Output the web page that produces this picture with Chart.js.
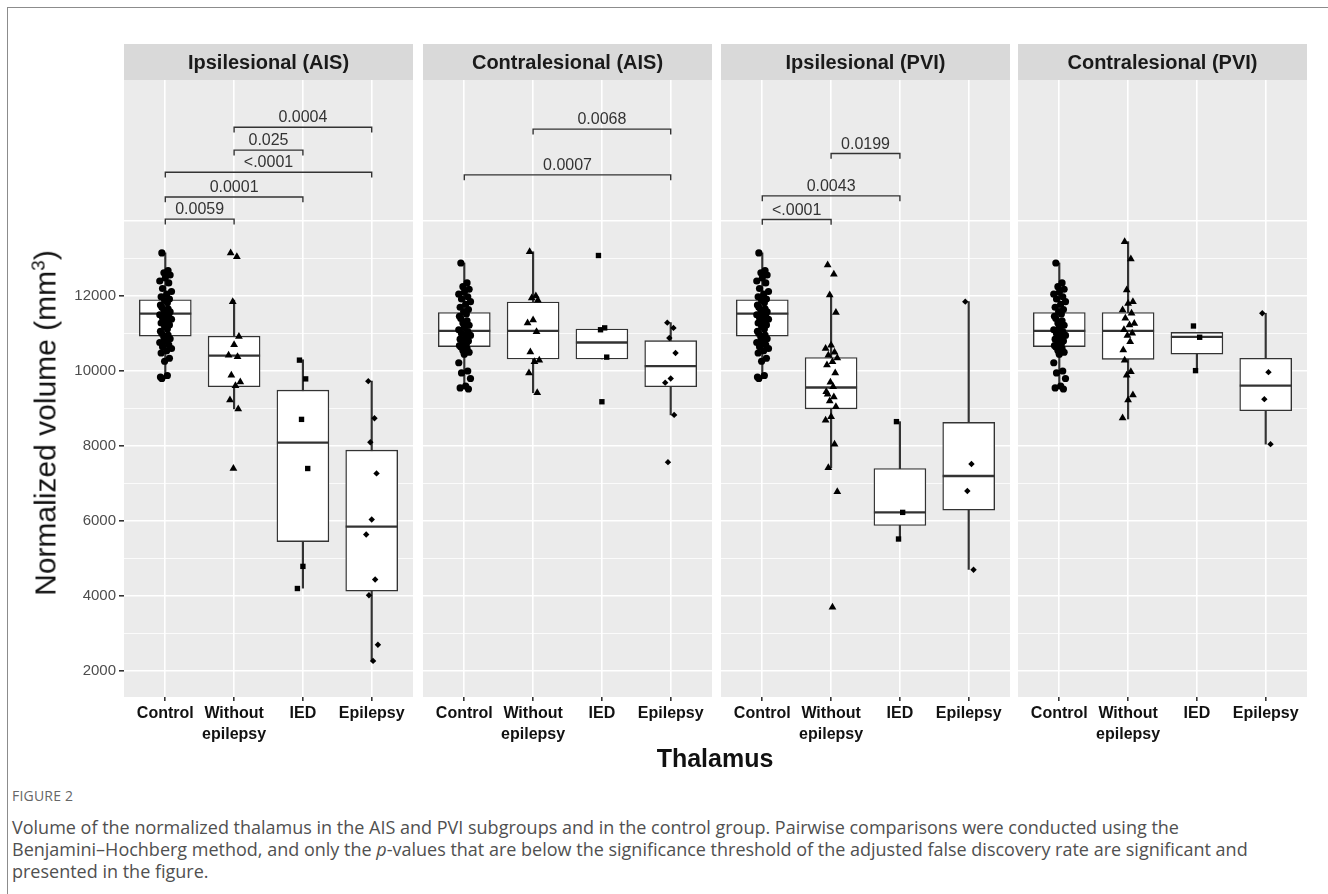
<!DOCTYPE html>
<html>
<head>
<meta charset="utf-8">
<script src="https://cdn.jsdelivr.net/npm/chart.js@4.4.0/dist/chart.umd.min.js"></script>
<style>
  body { margin: 0; background: #fff; width: 1328px; height: 894px; overflow: hidden; position: relative; font-family: "Liberation Sans", Arial, sans-serif; }
  .frame { position: absolute; left: 7px; top: 7px; width: 1340px; height: 900px; border-left: 1.5px solid #8c8c8c; border-top: 1.5px solid #8c8c8c; }
  canvas { position: absolute; top: 44px; }
  #yTitle { position: absolute; left: 45px; top: 423px; transform: translate(-50%, -50%) rotate(-90deg); font-size: 30px; white-space: nowrap; color: #111; }
  #yTitle sup { font-size: 19px; }
  #xTitle { position: absolute; left: 715px; top: 758px; transform: translate(-50%, -50%); font-weight: bold; font-size: 25px; color: #111; }
  #figLabel { position: absolute; left: 12px; top: 786px; font-family: "Open Sans", sans-serif; font-size: 14px; color: #666; letter-spacing: 0.2px; }
  #caption { position: absolute; left: 12px; top: 816px; width: 1310px; font-family: "Open Sans", sans-serif; font-size: 18px; line-height: 22px; color: #505050; white-space: nowrap; }
</style>
</head>
<body>
<div class="frame"></div>
<canvas id="p1" width="413" height="706" style="left:0px"></canvas>
<canvas id="p2" width="289" height="706" style="left:423px"></canvas>
<canvas id="p3" width="289" height="706" style="left:721px"></canvas>
<canvas id="p4" width="289" height="706" style="left:1018px"></canvas>
<div id="yTitle">Normalized volume (mm<sup>3</sup>)</div>
<div id="xTitle">Thalamus</div>
<div id="figLabel">FIGURE 2</div>
<div id="caption">Volume of the normalized thalamus in the AIS and PVI subgroups and in the control group. Pairwise comparisons were conducted using the<br>Benjamini–Hochberg method, and only the <i>p</i>-values that are below the significance threshold of the adjusted false discovery rate are significant and<br>presented in the figure.</div>

<script>
// Thalamus volume chart
Chart.defaults.font.family = `"Liberation Sans", Arial, sans-serif`;

// Categories / labels
const groups = [`Control`, `Without epilepsy`, `IED`, `Epilepsy`];
const tickLabels = [[`Control`], [`Without`, `epilepsy`], [`IED`], [`Epilepsy`]];
const panelTitles = [`Ipsilesional (AIS)`, `Contralesional (AIS)`, `Ipsilesional (PVI)`, `Contralesional (PVI)`];
const yTicks = [2000, 4000, 6000, 8000, 10000, 12000];
const gridValues = [2000, 3000, 4000, 5000, 6000, 7000, 8000, 9000, 10000, 11000, 12000, 13000, 14000];

// Box stats: [whisker low, Q1, median, Q3, whisker high]
const ipsiAisBoxes = [[9800, 10930, 11530, 11900, 13150], [8990, 9580, 10410, 10930, 11890], [4210, 5450, 8090, 9490, 10300], [2270, 4130, 5850, 7890, 9730]];
const contraAisBoxes = [[9540, 10650, 11070, 11560, 12880], [9420, 10320, 11070, 11840, 13180], [10320, 10320, 10760, 11120, 11120], [8830, 9580, 10130, 10810, 11290]];
const ipsiPviBoxes = [[9800, 10930, 11530, 11900, 13150], [7420, 8990, 9560, 10360, 12030], [5520, 5880, 6230, 7400, 8650], [4710, 6290, 7200, 8630, 11850]];
const contraPviBoxes = [[9540, 10650, 11070, 11560, 12880], [8720, 10310, 11070, 11560, 13450], [10010, 10450, 10910, 11030, 11030], [8050, 8940, 9610, 10340, 11540]];

// Individual points
const controlIpsi = [13150, 12680, 12620, 12560, 12480, 12400, 12350, 12200, 12120, 12050, 11980, 11920, 11880, 11820, 11760, 11700, 11660, 11620, 11580, 11540, 11500, 11460, 11420, 11380, 11330, 11280, 11230, 11180, 11120, 11060, 11000, 10960, 10900, 10860, 10800, 10760, 10700, 10650, 10600, 10540, 10480, 10340, 10260, 9880, 9840, 9800];
const controlContra = [12880, 12350, 12250, 12180, 12100, 12050, 11980, 11920, 11850, 11780, 11700, 11640, 11580, 11520, 11460, 11400, 11340, 11280, 11220, 11160, 11100, 11050, 11000, 10950, 10900, 10850, 10800, 10760, 10720, 10680, 10640, 10600, 10550, 10500, 10450, 10220, 10000, 9950, 9800, 9600, 9550, 9520];
const woIpsiAis = [13150, 13050, 11850, 10920, 10700, 10420, 10380, 9890, 9710, 9610, 9230, 8990, 7400];
const iedIpsiAis = [10290, 9790, 8710, 7400, 4790, 4200];
const epiIpsiAis = [9730, 8740, 8100, 7270, 6040, 5640, 4440, 4020, 2700, 2270];
const woContraAis = [13180, 12000, 11950, 11890, 11360, 11280, 11050, 10510, 10290, 10250, 9950, 9420];
const iedContraAis = [13080, 11150, 11100, 10370, 9180];
const epiContraAis = [11290, 11150, 10880, 10480, 9800, 9690, 8830, 7570];
const woIpsiPvi = [12830, 12580, 12030, 11560, 10690, 10600, 10500, 10420, 10350, 10250, 10160, 9950, 9700, 9580, 9450, 9380, 9310, 9200, 9050, 8780, 8690, 8050, 7420, 6780, 3700];
const iedIpsiPvi = [8650, 6230, 5520];
const epiIpsiPvi = [11850, 7520, 6800, 4700];
const woContraPvi = [13450, 12990, 12160, 11850, 11800, 11630, 11540, 11410, 11270, 11230, 11100, 11010, 10950, 10780, 10560, 10290, 9980, 9890, 9360, 9230, 8750];
const iedContraPvi = [11200, 10900, 10010];
const epiContraPvi = [11540, 9970, 9250, 8050];

// Significance brackets: [from group, to group, y, p label]
const ipsiAisSig = [[2, 4, 16500, `0.0004`], [2, 3, 15890, `0.025`], [1, 4, 15300, `<.0001`], [1, 3, 14640, `0.0001`], [1, 2, 14050, `0.0059`]];
const contraAisSig = [[2, 4, 16450, `0.0068`], [1, 4, 15230, `0.0007`]];
const ipsiPviSig = [[2, 3, 15800, `0.0199`], [1, 3, 14670, `0.0043`], [1, 2, 14040, `<.0001`]];
const contraPviSig = [];

// Horizontal jitter offsets for the points
const jitter = [-0.05, 0.04, -0.02, 0.07, 0.0, -0.08, 0.05, -0.04, 0.09, 0.02, -0.06, 0.06, -0.01, 0.03, -0.07];
const shapes = [`circle`, `triangle`, `rect`, `rectRot`];
const radii = [3.6, 4.5, 3.8, 3.2];
const tipLen = 140;

// Panel background, strip and p-value labels
const panelPlugin = {
  id: `panel`,
  beforeDraw(chart, args, opts) {
    const {ctx, chartArea: a} = chart;
    ctx.save();
    ctx.fillStyle = `#ebebeb`;
    ctx.fillRect(a.left, a.top, a.right - a.left, a.bottom - a.top);
    ctx.fillStyle = `#d9d9d9`;
    ctx.fillRect(a.left, a.top - 36, a.right - a.left, 36);
    ctx.fillStyle = `#1a1a1a`;
    ctx.font = `bold 20px "Liberation Sans", Arial, sans-serif`;
    ctx.textAlign = `center`;
    ctx.textBaseline = `middle`;
    ctx.fillText(opts.title, (a.left + a.right) / 2, a.top - 17);
    ctx.restore();
  },
  afterDatasetsDraw(chart, args, opts) {
    const {ctx, scales: {x, y}} = chart;
    ctx.save();
    ctx.fillStyle = `#333`;
    ctx.font = `16px "Liberation Sans", Arial, sans-serif`;
    ctx.textAlign = `center`;
    ctx.textBaseline = `alphabetic`;
    opts.sig.forEach(([from, to, v, label]) => {
      ctx.fillText(label, x.getPixelForValue((from + to) / 2), y.getPixelForValue(v) - 5);
    });
    ctx.restore();
  }
};

buildDatasets = (boxes, pointSets, sig) => {
  const ds = [];
  // whiskers
  ds.push({
    type: `bar`, grouped: false, order: 4, barThickness: 1.5,
    backgroundColor: `#333`, borderWidth: 0,
    data: boxes.map((b, i) => ({x: i + 1, y: [b[0], b[4]]}))
  });
  // boxes
  ds.push({
    type: `bar`, grouped: false, order: 3, barThickness: 52,
    backgroundColor: `#fff`, borderColor: `#333`, borderWidth: 1.4, borderSkipped: false,
    data: boxes.map((b, i) => ({x: i + 1, y: [b[1], b[3]]}))
  });
  // medians
  ds.push({
    type: `scatter`, order: 2, pointStyle: `line`, pointRadius: 26,
    borderColor: `#333`, borderWidth: 2.4,
    data: boxes.map((b, i) => ({x: i + 1, y: b[2]}))
  });
  pointSets.forEach((vals, g) => {
    ds.push({
      type: `scatter`, order: 1, pointStyle: shapes[g], pointRadius: radii[g],
      backgroundColor: `#000`, borderColor: `#000`, borderWidth: 0,
      data: vals.map((v, k) => ({x: g + 1 + jitter[k % jitter.length], y: v}))
    });
  });
  sig.forEach(([from, to, v]) => {
    ds.push({
      type: `line`, order: 0, borderColor: `#333`, borderWidth: 1.4, pointRadius: 0, fill: false,
      data: [{x: from, y: v - tipLen}, {x: from, y: v}, {x: to, y: v}, {x: to, y: v - tipLen}]
    });
  });
  return ds;
};

makePanel = (id, idx, boxes, pointSets, sig) => {
  const first = idx === 0;
  new Chart(document.getElementById(id), {
    type: `bar`,
    data: {datasets: buildDatasets(boxes, pointSets, sig)},
    plugins: [panelPlugin],
    options: {
      responsive: false,
      animation: false,
      events: [],
      layout: {autoPadding: false, padding: {top: 36, left: 0, right: 0, bottom: 0}},
      plugins: {
        legend: {display: false},
        tooltip: {enabled: false},
        panel: {title: panelTitles[idx], sig: sig}
      },
      scales: {
        x: {
          type: `linear`, min: 0.4, max: 4.6, offset: false,
          afterBuildTicks: s => { s.ticks = groups.map((g, i) => ({value: i + 1})); },
          afterFit: s => { s.height = 53; s.paddingLeft = 0; s.paddingRight = 0; },
          border: {display: false},
          grid: {offset: false, color: `#fff`, lineWidth: 1.6, tickColor: `#333`, tickLength: 4},
          ticks: {
            callback: v => tickLabels[Math.round(v) - 1],
            font: {size: 16, weight: `bold`, lineHeight: 1.3},
            color: `#111`, padding: 2, maxRotation: 0, autoSkip: false
          }
        },
        y: {
          type: `linear`, min: 1307, max: 17760,
          afterBuildTicks: s => { s.ticks = gridValues.map(v => ({value: v})); },
          afterFit: s => { s.width = first ? 124 : 0; s.paddingTop = 0; s.paddingBottom = 0; },
          border: {display: false},
          grid: {
            color: `#fff`,
            lineWidth: c => (c.tick && c.tick.value % 2000 === 0 ? 1.6 : 0.8),
            tickColor: c => (c.tick && yTicks.includes(c.tick.value) ? `#333` : `rgba(0,0,0,0)`),
            tickLength: 5,
            drawTicks: first
          },
          ticks: {
            display: first,
            callback: v => (yTicks.includes(v) ? String(v) : ``),
            font: {size: 15}, color: `#4d4d4d`, padding: 3
          }
        }
      }
    }
  });
};

makePanel(`p1`, 0, ipsiAisBoxes, [controlIpsi, woIpsiAis, iedIpsiAis, epiIpsiAis], ipsiAisSig);
makePanel(`p2`, 1, contraAisBoxes, [controlContra, woContraAis, iedContraAis, epiContraAis], contraAisSig);
makePanel(`p3`, 2, ipsiPviBoxes, [controlIpsi, woIpsiPvi, iedIpsiPvi, epiIpsiPvi], ipsiPviSig);
makePanel(`p4`, 3, contraPviBoxes, [controlContra, woContraPvi, iedContraPvi, epiContraPvi], contraPviSig);
</script>
</body>
</html>
